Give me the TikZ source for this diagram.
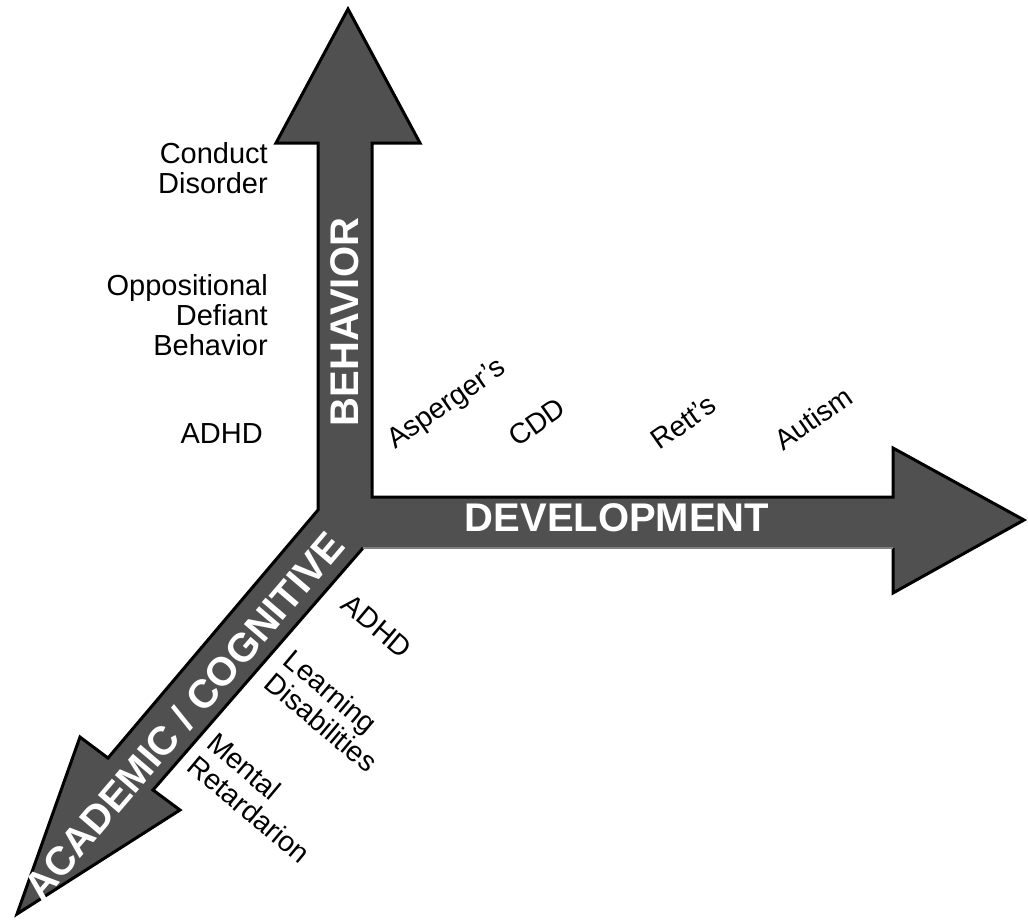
\documentclass[tikz,border=0pt]{standalone}
\usepackage{fontspec}
\setmainfont{Liberation Sans}
\definecolor{axisgray}{RGB}{80,80,80}

\begin{document}
\begin{tikzpicture}[
            x=1pt, y=-1pt,
            axisedge/.style={draw=black, line width=3pt, line join=miter},
            axisname/.style={text=white, inner sep=0pt, font=\fontsize{40}{40}\selectfont\bfseries},
            disorder/.style={inner sep=0pt, align=right, font=\fontsize{29}{30}\selectfont},
            tilted/.style={inner sep=0pt, align=left, font=\fontsize{28.5}{30}\selectfont},
        ]

        \useasboundingbox (0,0) rectangle (1028,919);

        % The three axis arrows as one shape
        \fill[axisgray] (348,9) -- (420,143) -- (372,143) -- (372,497) -- (893,497)
            -- (893,448) -- (1024,520) -- (893,593) -- (893,548) -- (363,548)
            -- (153,790) -- (180,810) -- (17,914) -- (80,737) -- (108,758)
            -- (318,510) -- (318,143) -- (276,143) -- cycle;
        \draw[axisedge] (893,548) -- (893,593) -- (1024,520) -- (893,448) -- (893,497)
            -- (372,497) -- (372,143) -- (420,143) -- (348,9) -- (276,143) -- (318,143)
            -- (318,510) -- (108,758) -- (80,737) -- (17,914) -- (180,810) -- (153,790)
            -- (363,548);
        \draw[gray, line width=1.5pt] (363,548) -- (893,548);

        % Axis names
        \node[axisname, rotate=90] (behavior) at (345,322) {BEHAVIOR};
        \node[axisname] (development) at (617,518) {DEVELOPMENT};
        \node[axisname, rotate=49.5] (academic) at (184,716) {ACADEMIC / COGNITIVE};

        % Behavior labels
        \node[disorder, anchor=north east] (conduct) at (268,142) {Conduct\\Disorder};
        \node[disorder, anchor=north east] (defiant) at (268,274) {Oppositional\\Defiant\\Behavior};
        \node[disorder, anchor=north east] (adhd-b) at (263,423) {ADHD};

        % Development labels
        \node[tilted, rotate=35, anchor=base west] (asperger) at (395,450) {Asperger's};
        \node[tilted, rotate=35, anchor=base west] (cdd) at (517,448) {CDD};
        \node[tilted, rotate=35, anchor=base west] (rett) at (659,451) {Rett's};
        \node[tilted, rotate=35, anchor=base west] (autism) at (783,452) {Autism};

        % Academic labels
        \node[tilted, rotate=-40] (adhd-a) at (377,626) {ADHD};
        \node[tilted, rotate=-40] (learning) at (331,711) {Learning\\Disabilities};
        \node[tilted, rotate=-40] (mental) at (259,798) {Mental\\Retardarion};

    \end{tikzpicture}
\end{document}
